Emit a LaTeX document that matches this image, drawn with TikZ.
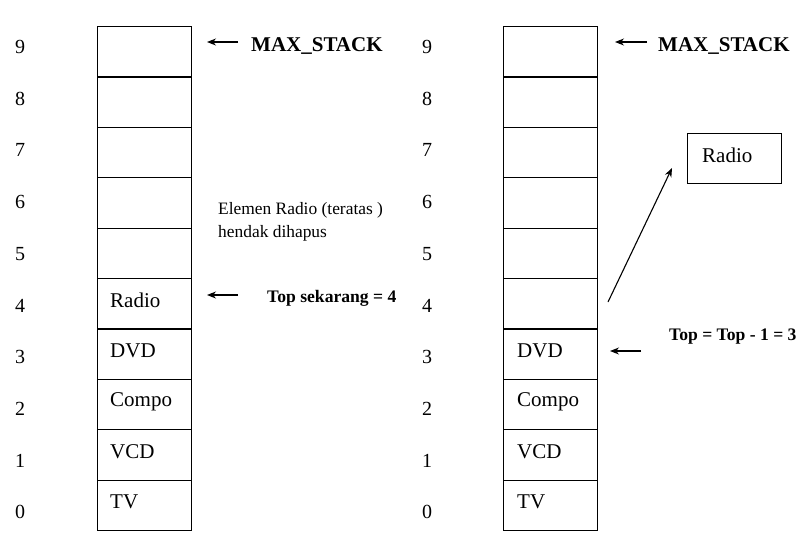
\documentclass[tikz,border=0pt]{standalone}
\usepackage{fontspec}
\setmainfont{Liberation Serif}
\usetikzlibrary{arrows.meta}
\begin{document}
\begin{tikzpicture}[x=1pt,y=-1pt,
  cell/.style={draw, line width=1.1pt, minimum width=94pt, minimum height=50.4pt, inner sep=0pt, anchor=north west},
  idx/.style={font=\fontsize{20}{22}\selectfont, inner sep=0pt},
  txt/.style={font=\fontsize{21}{23}\selectfont, inner sep=0pt, anchor=west},
  bold/.style={font=\fontsize{21}{23}\selectfont\bfseries, inner sep=0pt, anchor=west},
  boldsm/.style={font=\fontsize{17.6}{20}\selectfont\bfseries, inner sep=0pt, anchor=west},
  arr/.style={line width=1.1pt, -{Stealth[length=9pt,width=7pt]}}]
\useasboundingbox[fill=white] (0,0) rectangle (808,536);
% stacks and index numbers
\foreach \i in {0,...,9}{
  \node[cell] (L\i) at (97,{26+(9-\i)*50.4}) {};
  \node[cell] (R\i) at (503,{26+(9-\i)*50.4}) {};
  \node[idx] (li\i) at (20,{47+(9-\i)*51.7}) {\i};
  \node[idx] (ri\i) at (427,{47+(9-\i)*51.7}) {\i};
}
% left contents
\node[txt] (lr) at (110,300) {Radio};
\node[txt] (ld) at (110,351) {DVD};
\node[txt] (lc) at (110,402) {Compo};
\node[txt] (lv) at (110,452) {VCD};
\node[txt] (lt) at (110,502) {TV};
% right contents
\node[txt] (rd) at (517,351) {DVD};
\node[txt] (rc) at (517,402) {Compo};
\node[txt] (rv) at (517,452) {VCD};
\node[txt] (rt) at (517,502) {TV};
% left annotations
\node[bold] (lms) at (251,46) {MAX\_STACK};
\coordinate (lmsA) at (238,42);
\coordinate (lmsB) at (207,42);
\draw[arr] (lmsA) -- (lmsB);
\node[font=\fontsize{17.4}{23}\selectfont, inner sep=0pt, anchor=north west, align=left] (note) at (218,202) {Elemen Radio (teratas )\\hendak dihapus};
\node[boldsm] (ltop) at (267,298) {Top sekarang = 4};
\coordinate (ltA) at (238,295);
\coordinate (ltB) at (207,295);
\draw[arr] (ltA) -- (ltB);
% right annotations
\node[bold] (rms) at (658,46) {MAX\_STACK};
\coordinate (rmsA) at (647,42);
\coordinate (rmsB) at (615,42);
\draw[arr] (rmsA) -- (rmsB);
\node[draw, line width=1.1pt, minimum width=94pt, minimum height=50pt, inner sep=0pt, anchor=north west] (rbox) at (687,133) {};
\node[txt] (rbt) at (702,155) {Radio};
\coordinate (dA) at (608,302);
\coordinate (dB) at (672,168);
\draw[arr] (dA) -- (dB);
\node[boldsm] (rtop) at (669,337) {Top = Top - 1 = 3};
\coordinate (rtA) at (641,351);
\coordinate (rtB) at (610,351);
\draw[arr] (rtA) -- (rtB);
\end{tikzpicture}
\end{document}
